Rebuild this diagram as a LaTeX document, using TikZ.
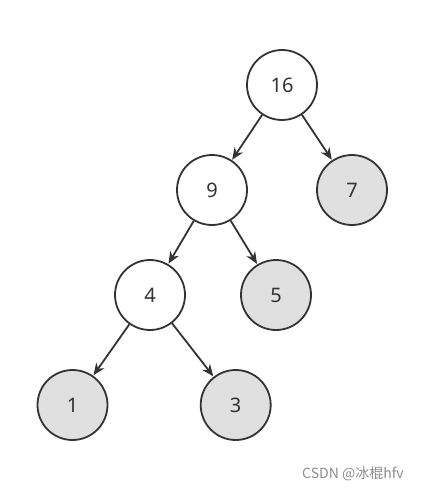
\documentclass[tikz,border=0pt]{standalone}
\usepackage{fontspec}
\setmainfont{Noto Sans}
\newfontfamily\cjk{Noto Sans CJK SC}
\usetikzlibrary{arrows.meta}
\definecolor{ln}{HTML}{333333}
\definecolor{lf}{HTML}{E0E0E0}
\begin{document}
\begin{tikzpicture}[x=1pt,y=-1pt,
  nd/.style={circle,draw=ln,line width=1.8pt,minimum size=70pt,inner sep=0pt,fill=white,font=\fontsize{20}{24}\selectfont,text=ln},
  lf/.style={nd,fill=lf},
  ar/.style={draw=ln,line width=1.8pt,-{Stealth[length=12pt,width=10pt]},shorten >=0.5pt}]
\useasboundingbox (0,0) rectangle (421,492);
\node[nd] (n16) at (282,85) {16};
\node[nd] (n9) at (212,190) {9};
\node[lf] (n7) at (352,190) {7};
\node[nd] (n4) at (150,295) {4};
\node[lf] (n5) at (276,295) {5};
\node[lf] (n1) at (72.5,405) {1};
\node[lf] (n3) at (235.7,405) {3};
\draw[ar] (n16) -- (n9);
\draw[ar] (n16) -- (n7);
\draw[ar] (n9) -- (n4);
\draw[ar] (n9) -- (n5);
\draw[ar] (n4) -- (n1);
\draw[ar] (n4) -- (n3);
\node[text=black!45,font=\cjk\fontsize{14}{16}\selectfont,inner sep=0pt] (wm) at (353,474) {CSDN @冰棍hfv};
\end{tikzpicture}
\end{document}
